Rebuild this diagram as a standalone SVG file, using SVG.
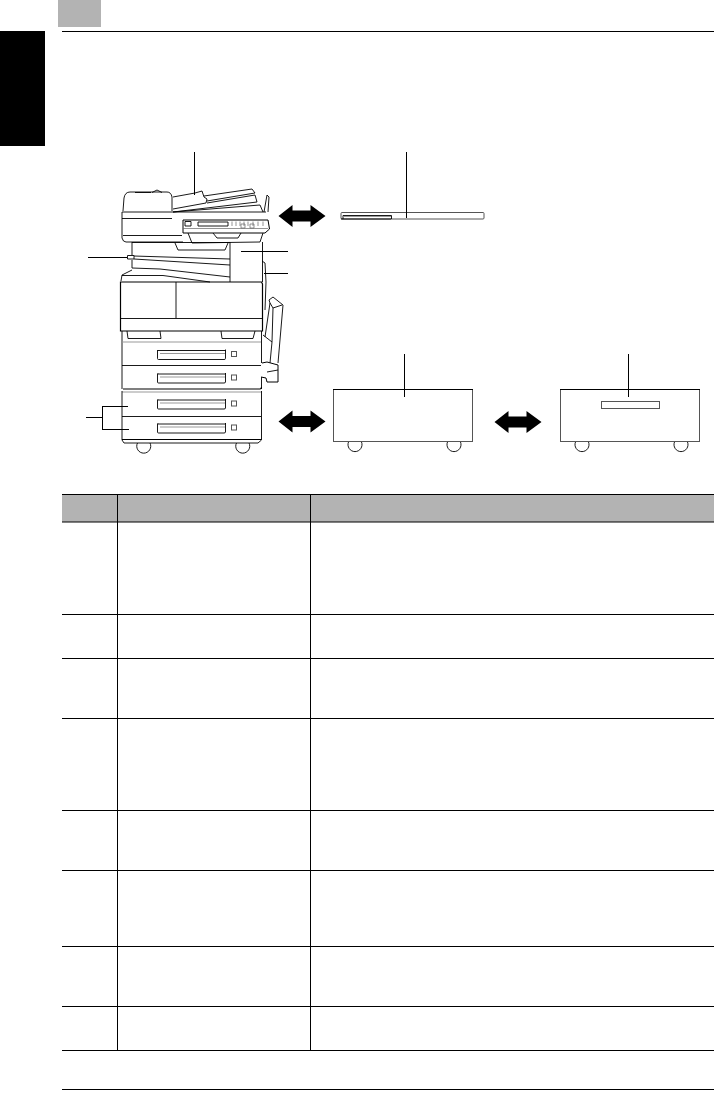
<svg xmlns="http://www.w3.org/2000/svg" width="714" height="1118" viewBox="0 0 714 1118">
<style>
.l{fill:none;stroke:#000;stroke-width:.9}
.t{fill:none;stroke:#000;stroke-width:1.2}
.g{fill:none;stroke:#999;stroke-width:1}
.w{fill:#fff;stroke:#000;stroke-width:1}
.s{fill:#fff;stroke:#555;stroke-width:1}
.r{fill:none;stroke:#000;stroke-width:1}
.b{fill:none;stroke:#666;stroke-width:.7}
</style>
<defs>
<path id="dbl" d="M0 0L14 -11V-5.500H32V-11L47 0L32 11V5.500H14V11Z" fill="#000"/>
<g id="handle"><path class="l" d="M158 0.500V0M158 0.500H225.500V-0.500M225.500 0V8.500Q225.500 9.500 224 9.500H158.500Q157.500 9.500 157.500 8.500V0"/><path class="g" d="M160 3.500H225"/><rect class="s" x="231.500" y="1.500" width="5" height="5"/></g>
</defs>
<rect id="page-tab" x="58" y="0" width="43" height="27" fill="#b3b3b3"/>
<rect id="side-tab" x="0" y="31" width="45" height="115" fill="#000"/>
<path class="r" d="M62 31.500H714M62 1089.500H714"/>
<g id="machine">
<path class="l" d="M123 211L124 198Q125 192 130 192H167Q171 192 172 197L172 211"/>
<path class="l" d="M135 192.500H151M152 192.500L157 190L162 192.500"/>
<path class="l" d="M173 197L195 193L202 191L204 197L207 199L206 203L173 209"/>
<path class="l" d="M204 196L252 189L255 193L207 201M207 203L255 195L257 202L173 212M173 212L260 205L263 212"/>
<path class="l" d="M264 212L267 195L269 197L268 212"/>
<path class="l" d="M122 212H266M122 212V238Q123 242 126 242H183M122 218.500H172M123 235.500H182"/>
<path class="w" d="M183 220H268L269.500 229L265 233H183Z"/>
<path class="l" d="M198 222H228V226H198ZM185 221.500H191V226H185Z"/>
<path class="b" d="M232 221.500V226M236 221.500V226M240 221.500V226M244 221.500V226M248 221.500V226M253 221.500V226M258 221.500V226M263 221.500V226M241 224H245V228H241ZM250 224H254V228H250ZM183 228.500H268"/>
<path class="l" d="M188 233L192 243L260 242L263 233M213 233L217 238H238L241 233"/>
<path class="l" d="M132 242V255M132 260V268M132 242.500H230"/>
<path class="l" d="M127.500 255.500H134V259H127.500ZM134 256L230 259M134 259L230 265"/>
<path class="l" d="M175 243L178 250H225L228 243"/>
<path class="l" d="M230 242V282M262.500 242V282"/>
<path class="l" d="M121 281L122 275L132 270M122 275.500H163L210 282M132 268L160 269L230 277"/>
<path class="l" d="M262 261L265 263L266 282L265 310"/>
<path class="t" d="M120.500 282H261.500L262.500 284V331H120.500Z"/>
<path class="l" d="M176 282V318M120 318.500H262"/>
<path class="l" d="M127 331L128 338.500H161L160 331M221 331L222 338.500H253L255 331"/>
<path class="l" d="M122 331V389M261.500 331V363M261.500 377V389M122 365.500H261"/>
<path class="g" d="M122 342H261"/>
<path class="t" d="M123 389H260Q261.500 389 261.500 387"/>
<path class="g" d="M122 392H262"/>
<path class="l" d="M122 391V440L124 443H258L261.500 440V391M122 416.500H261"/>
<path class="t" d="M122 439.500H261"/>
<use href="#handle" y="350"/><use href="#handle" y="373.500"/><use href="#handle" y="399.500"/><use href="#handle" y="423.500"/>
<path class="l" d="M137.500 443A7 7 0 1 0 150 443M236.500 443A7 7 0 1 0 249 443"/>
<path class="l" d="M270 303L269 300L273 297L283 305L278 363M270 303L265 337M263 335L272 342L273 308L270 303M282 305L273 308M272 342L270 363"/>
<path class="w" d="M262 363L267 362L278 365V382H267L266 378L261 377"/>
<path class="l" d="M267 372L278 370"/>
</g>
<g id="tray"><rect class="s" x="341" y="212.500" width="143" height="6.500" rx="1"/><path class="l" d="M343 219V215.500H391.500V219M341 219H391"/><path class="g" d="M344 216.500H391"/></g>
<g id="cabinet-plain"><rect class="s" x="333.500" y="389.500" width="139" height="52"/><path class="t" d="M333 389.500H473"/><path class="l" d="M348.500 442A7 7 0 1 0 361.500 442M447.500 442A7 7 0 1 0 460.500 442"/></g>
<g id="cabinet-drawer"><rect class="s" x="560.500" y="389.500" width="139" height="52"/><path class="t" d="M560 389.500H700"/><rect class="s" x="601.500" y="401.500" width="58" height="7"/><path class="l" d="M575.500 442A7 7 0 1 0 588.500 442M674.500 442A7 7 0 1 0 687.500 442"/></g>
<g id="connectors">
<path class="r" d="M194.500 152V195M406.500 152V218M404.500 354V397M628.500 354V397M88 257.500H127M241 251.500H288M264 273.500H288M86 417.500H103M102.500 406.500V429.500M102 406.500H128M102 429.500H129"/>
<use href="#dbl" x="278.500" y="216"/><use href="#dbl" x="278.500" y="421.500"/><use href="#dbl" x="494.500" y="422"/>
</g>
<g id="table">
<rect x="62" y="494" width="652" height="28" fill="#b3b3b3"/>
<path class="r" d="M62 494.500H714M62 522H714M62 614.500H714M62 658.500H714M62 718.500H714M62 810.500H714M62 870.500H714M62 946.500H714M62 1006.500H714M62 1050.500H714M117.500 494V1050M310.500 494V1050"/>
</g>
</svg>
